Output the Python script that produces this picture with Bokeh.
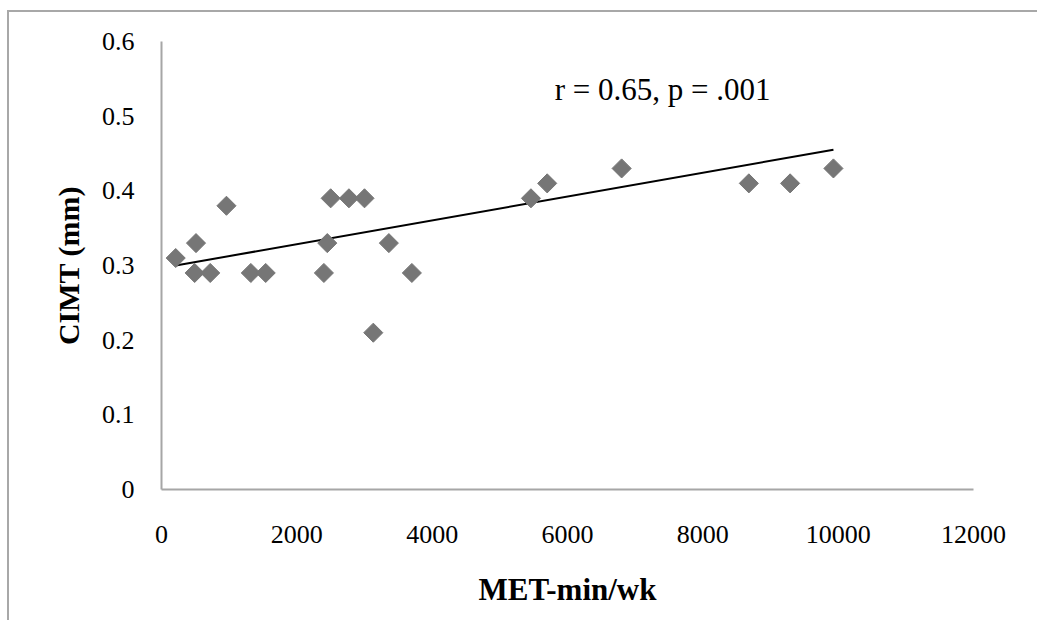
import numpy as np
from bokeh.plotting import figure
from bokeh.models import Range1d, FixedTicker, Label
from bokeh.embed import file_html
from bokeh.resources import INLINE

# data
met_min_wk = [210, 510, 490, 720, 960, 1320, 1540, 2400, 2450, 2500, 2770,
              3000, 3360, 3700, 3130, 5460, 5700, 6800, 8680, 9290, 9930]
cimt_mm = [0.31, 0.33, 0.29, 0.29, 0.38, 0.29, 0.29, 0.29, 0.33, 0.39, 0.39,
           0.39, 0.33, 0.29, 0.21, 0.39, 0.41, 0.43, 0.41, 0.41, 0.43]

# linear trendline as drawn in the reference (end points)
trend_x = [210, 9930]
trend_y = [0.300, 0.455]

x_ticks = [0, 2000, 4000, 6000, 8000, 10000, 12000]
x_labels = ["0", "2000", "4000", "6000", "8000", "10000", "12000"]
y_ticks = [0, 0.1, 0.2, 0.3, 0.4, 0.5, 0.6]
y_labels = ["0", "0.1", "0.2", "0.3", "0.4", "0.5", "0.6"]

annotation_text = "r = 0.65, p = .001"
annotation_x = 5810
annotation_y = 0.536

x_title = "MET-min/wk"
y_title = "CIMT (mm)"

W, H = 1030, 610
p = figure(width=W, height=H, output_backend="svg", toolbar_location=None,
           x_range=Range1d(0, 12000), y_range=Range1d(0, 0.6),
           min_border_left=152, min_border_top=29,
           min_border_right=W - 964, min_border_bottom=H - 477)
p.margin = (10, 0, 0, 7)
p.styles = {"border-left": "2px solid #a8a8a8", "border-top": "2px solid #a8a8a8"}
p.outline_line_color = None
p.xgrid.visible = False
p.ygrid.visible = False
p.background_fill_color = "white"
p.border_fill_color = "white"

p.line(trend_x, trend_y, line_color="black", line_width=2)

p.scatter(met_min_wk, cimt_mm, marker="square", angle=np.pi / 4, size=13.5,
          fill_color="#767676", line_color="#767676")

font = "Liberation Serif"
for ax in (p.xaxis[0], p.yaxis[0]):
    ax.axis_line_color = "#a6a6a6"
    ax.axis_line_width = 2
    ax.major_tick_line_color = None
    ax.minor_tick_line_color = None
    ax.major_label_text_font = font
    ax.major_label_text_font_size = "26px"
    ax.major_label_text_color = "black"
    ax.axis_label_text_font = font
    ax.axis_label_text_font_style = "bold"
    ax.axis_label_text_color = "black"

p.xaxis.ticker = FixedTicker(ticks=x_ticks)
p.yaxis.ticker = FixedTicker(ticks=y_ticks)
p.xaxis.major_label_overrides = dict(zip(x_ticks, x_labels))
p.yaxis.major_label_overrides = dict(zip(y_ticks, y_labels))
p.xaxis.major_label_standoff = 30
p.yaxis.major_label_standoff = 21
p.xaxis.axis_label = x_title
p.yaxis.axis_label = y_title
p.xaxis.axis_label_text_font_size = "31px"
p.yaxis.axis_label_text_font_size = "30px"
p.xaxis.axis_label_standoff = 26
p.yaxis.axis_label_standoff = 14

p.add_layout(Label(x=annotation_x, y=annotation_y, text=annotation_text,
                   text_font=font, text_font_size="31px", text_color="black",
                   text_baseline="middle"))

open("out.html", "w").write(file_html(p, INLINE))
